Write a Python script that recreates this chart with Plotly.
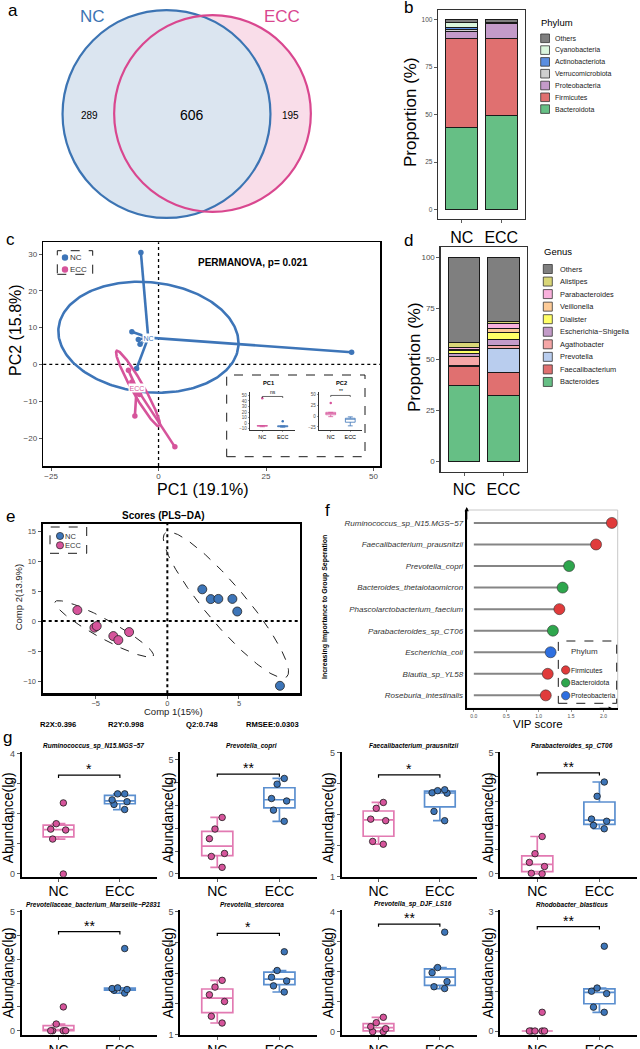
import numpy as np
import plotly.graph_objects as go

W, H = 640, 1049
FONT = "Liberation Sans, Arial, Helvetica, sans-serif"

# ======================= DATA =======================
venn_sets = ["NC", "ECC"]
venn_only = [289, 195]
venn_shared = 606

groups = ["NC", "ECC"]

phyla = ["Bacteroidota", "Firmicutes", "Proteobacteria", "Verrucomicrobiota",
         "Actinobacteriota", "Cyanobacteria", "Others"]
phylum_nc = [43.3, 46.6, 3.8, 0.8, 1.5, 2.2, 1.8]
phylum_ecc = [49.6, 40.3, 8.0, 0.3, 0.2, 0.2, 1.4]

genera = ["Bacteroides", "Faecalibacterium", "Prevotella", "Agathobacter",
          "Escherichia\u2212Shigella", "Dialister", "Veillonella", "Parabacteroides",
          "Alistipes", "Others"]
genus_nc = [37.4, 9.1, 0.3, 4.7, 1.5, 1.2, 0.8, 0.9, 2.2, 41.9]
genus_ecc = [32.5, 10.9, 11.7, 1.8, 3.0, 3.4, 1.8, 2.3, 0.9, 31.7]

# PCoA (panel c)
pcoa_nc_pc1 = [-4.1, 44.9, -6.2, -4.7, -4.3, -5.1]
pcoa_nc_pc2 = [30.4, 3.3, 8.9, 6.8, 5.5, -1.1]
pcoa_ecc_pc1 = [-7.0, -5.5, 3.8, -6.2, -4.4, -5.4]
pcoa_ecc_pc2 = [-1.6, -14.0, -22.4, -4.8, -8.2, -6.0]
pcoa_centroid_pc1 = [-2.4, -5.1]
pcoa_centroid_pc2 = [7.3, -6.5]
# ellipse: centre x, centre y, semi-axis A (dx, dy), semi-axis B (dx, dy)
pcoa_ellipse_nc = [-2.35, 7.4, 20.95, -1.6, 0.0, 15.0]
pcoa_ellipse_ecc = [-4.77, -6.55, 4.96, -10.25, 1.21, 0.80]
permanova_p = 0.021
pc1_pct, pc2_pct = 19.1, 15.8

# PLS-DA (panel e)
plsda_nc_c1 = [2.44, 3.03, 3.56, 4.54, 4.88, 7.86]
plsda_nc_c2 = [5.3, 3.67, 3.7, 3.7, 1.6, -10.8]
plsda_ecc_c1 = [-6.28, -5.09, -4.93, -3.77, -3.42, -2.67]
plsda_ecc_c2 = [1.83, -1.1, -0.83, -2.5, -3.17, -1.83]
plsda_ellipse_nc = [4.09, 2.7, 4.24, -12.0, 1.06, 2.15]
plsda_ellipse_ecc = [-4.41, -1.31, 3.43, -4.52, 0.32, 1.38]
plsda_stats = ["R2X:0.396", "R2Y:0.998", "Q2:0.748", "RMSEE:0.0303"]

# VIP (panel f), bottom -> top
vip_species = ["Roseburia_intestinalis", "Blautia_sp_YL58", "Escherichia_coli",
               "Parabacteroides_sp_CT06", "Phascolarctobacterium_faecium",
               "Bacteroides_thetaiotaomicron", "Prevotella_copri",
               "Faecalibacterium_prausnitzii", "Ruminococcus_sp_N15.MGS\u221257"]
vip_score = [1.11, 1.14, 1.185, 1.22, 1.32, 1.37, 1.47, 1.886, 2.13]
vip_phylum = ["Firmicutes", "Firmicutes", "Proteobacteria", "Bacteroidota", "Firmicutes",
              "Bacteroidota", "Bacteroidota", "Firmicutes", "Firmicutes"]
vip_phyla_order = ["Firmicutes", "Bacteroidota", "Proteobacteria"]

# Abundance (panel g)
abund_titles = ["Ruminococcus_sp_N15.MGS\u221257", "Prevotella_copri",
                "Faecalibacterium_prausnitzii", "Parabacteroides_sp_CT06",
                "Prevotellaceae_bacterium_Marseille\u2212P2831", "Prevotella_stercorea",
                "Prevotella_sp_DJF_LS16", "Rhodobacter_blasticus"]
abund_nc = [[2.36, 1.67, 1.49, 1.46, 1.16, 0.0],
            [2.48, 1.97, 1.55, 0.90, 0.77, 0.29],
            [3.39, 3.20, 2.85, 2.80, 2.13, 2.04],
            [1.54, 0.83, 0.47, 0.30, 0.02, 0.0],
            [1.0, 0.28, 0.0, 0.0, 0.0, 0.0],
            [2.77, 2.55, 2.30, 2.08, 1.60, 1.38],
            [0.48, 0.30, 0.17, 0.10, 0.0, 0.0],
            [0.47, 0.0, 0.0, 0.0, 0.0, 0.0]]
abund_ecc = [[2.66, 2.66, 2.46, 2.40, 2.31, 2.14],
             [4.19, 3.94, 3.31, 3.20, 2.80, 2.31],
             [3.80, 3.77, 3.70, 3.69, 3.10, 2.80],
             [3.79, 3.20, 2.26, 2.17, 2.00, 1.86],
             [3.45, 1.80, 1.77, 1.73, 1.70, 1.58],
             [3.70, 3.09, 2.87, 2.75, 2.59, 2.39],
             [3.32, 2.14, 1.97, 1.67, 1.50, 1.44],
             [2.13, 1.08, 1.00, 0.94, 0.60, 0.47]]
abund_sig = ["*", "**", "*", "**", "**", "*", "**", "**"]

# ======================= STYLE / LAYOUT =======================
BLUE = "#3d75b8"
PINK = "#d6549b"
BOX_BLUE = "#5b8fcf"
BOX_PINK = "#e27ab2"
TICKGRAY = "#4d4d4d"
phylum_colors = ["#66bf85", "#e07070", "#c49bc9", "#cfcfcf", "#5b8ee0", "#dbf6dd", "#7f7f7f"]
genus_colors = ["#66bf85", "#e07070", "#b9cdee", "#f5a6a6", "#c39bc8", "#ffff66",
                "#fdcb98", "#f9b1dc", "#d9d677", "#7f7f7f"]
vip_colors = {"Firmicutes": "#e03b3b", "Bacteroidota": "#2ea64d", "Proteobacteria": "#2e6fe0"}

fig = go.Figure()
layout = dict(template="none", width=W, height=H, autosize=False,
              margin=dict(l=0, r=0, t=0, b=0, pad=0, autoexpand=False),
              paper_bgcolor="white", plot_bgcolor="rgba(0,0,0,0)",
              showlegend=False, barmode="stack", boxmode="overlay",
              font=dict(family=FONT, color="black"))
shapes, annots = [], []


def axid(n):
    return ("x", "y") if n == 1 else (f"x{n}", f"y{n}")


def make_axes(n, x0, x1, y0, y1, xa, ya):
    xr, yr = axid(n)
    base = dict(showgrid=False, zeroline=False, fixedrange=True, automargin=False)
    xk = "xaxis" if n == 1 else f"xaxis{n}"
    yk = "yaxis" if n == 1 else f"yaxis{n}"
    layout[xk] = {**base, "domain": [x0 / W, x1 / W], "anchor": yr, **xa}
    layout[yk] = {**base, "domain": [1 - y1 / H, 1 - y0 / H], "anchor": xr, **ya}


def tk(size, color=TICKGRAY, length=3, width=0.8, standoff=0):
    return dict(ticks="outside", ticklen=length, tickwidth=width, tickcolor="#333333",
                ticklabelstandoff=standoff,
                tickfont=dict(family=FONT, size=size, color=color))


def frame(color, w, mirror=True):
    return dict(showline=True, linecolor=color, linewidth=w, mirror=mirror)


def txt(x, y, s, size, color="black", bold=False, italic=False, angle=0,
        xanchor="center", yanchor="middle", **kw):
    if italic:
        s = f"<i>{s}</i>"
    if bold:
        s = f"<b>{s}</b>"
    annots.append(dict(x=x / W, y=1 - y / H, xref="paper", yref="paper", text=s,
                       showarrow=False, font=dict(family=FONT, size=size, color=color),
                       textangle=angle, xanchor=xanchor, yanchor=yanchor, borderpad=0, **kw))


def prect(x0, y0, x1, y1, **kw):
    shapes.append(dict(type="rect", xref="paper", yref="paper", x0=x0 / W, x1=x1 / W,
                       y0=1 - y1 / H, y1=1 - y0 / H, **kw))


def pcircle(xc, yc, r, **kw):
    shapes.append(dict(type="circle", xref="paper", yref="paper", x0=(xc - r) / W,
                       x1=(xc + r) / W, y0=1 - (yc + r) / H, y1=1 - (yc - r) / H, **kw))


def ellipse(p):
    cx, cy, ax, ay, bx, by = p
    t = np.linspace(0, 2 * np.pi, 241)
    return cx + ax * np.cos(t) + bx * np.sin(t), cy + ay * np.cos(t) + by * np.sin(t)


# panel letters
for lab, (lx, ly) in zip("abcdefg", [(13, 11), (408, 8), (10, 240), (408, 241),
                                      (10, 516), (327, 510), (7, 737)]):
    txt(lx, ly, lab, 17)

# ======================= a: Venn =======================
make_axes(1, 0, 320, 0, 230, dict(range=[0, 320], visible=False),
          dict(range=[230, 0], visible=False))
venn_total = [venn_only[i] + venn_shared for i in range(2)]
venn_r = [3.475 * np.sqrt(t) for t in venn_total]
venn_cx = [166.5, 212.5]
venn_cy = [114.0, 113.5]
venn_fill = ["#dbe5f0", "#f9dde9"]
venn_line = ["#3c74b3", "#d9478f"]
for i in [1, 0]:
    shapes.append(dict(type="circle", xref="x", yref="y", x0=venn_cx[i] - venn_r[i],
                       x1=venn_cx[i] + venn_r[i], y0=venn_cy[i] - venn_r[i],
                       y1=venn_cy[i] + venn_r[i], fillcolor=venn_fill[i], line=dict(width=0)))
for i in [0, 1]:
    shapes.append(dict(type="circle", xref="x", yref="y", x0=venn_cx[i] - venn_r[i],
                       x1=venn_cx[i] + venn_r[i], y0=venn_cy[i] - venn_r[i],
                       y1=venn_cy[i] + venn_r[i], line=dict(color=venn_line[i], width=2.2)))
txt(92, 16, venn_sets[0], 17, color=venn_line[0])
txt(282, 16, venn_sets[1], 17, color=venn_line[1])
txt(89, 115, str(venn_only[0]), 10)
txt(192, 115, str(venn_shared), 14)
txt(290, 115, str(venn_only[1]), 10)

# ======================= b: phylum bars =======================
make_axes(2, 438, 525, 10, 219,
          dict(type="category", categoryarray=groups, range=[-0.6, 1.6],
               **frame("#333333", 1.3), **tk(16, "black")),
          dict(range=[-5, 105], tickvals=[0, 25, 50, 75, 100],
               **frame("#333333", 1.3), **tk(6.5)))
for i, p in enumerate(phyla):
    fig.add_trace(go.Bar(x=groups, y=[phylum_nc[i], phylum_ecc[i]], name=p, width=0.8,
                         marker=dict(color=phylum_colors[i], line=dict(color="#1a1a1a", width=1)),
                         xaxis="x2", yaxis="y2"))
txt(410, 112, "Proportion (%)", 17, angle=-90)
txt(540, 22, "Phylum", 9.5, xanchor="left")
for j, (lab, col) in enumerate(zip(phyla[::-1], phylum_colors[::-1])):
    yc = 38.3 + j * 11.8
    prect(540.7, yc - 4.3, 549.5, yc + 4.3, fillcolor=col, line=dict(color="#333333", width=0.8))
    txt(554, yc, lab, 7, color="#1a1a1a", xanchor="left")

# ======================= d: genus bars =======================
make_axes(6, 440.7, 527, 247, 471.7,
          dict(type="category", categoryarray=groups, range=[-0.6, 1.6],
               **frame("#333333", 1.3), **tk(16, "black")),
          dict(range=[-5, 105], tickvals=[0, 25, 50, 75, 100],
               **frame("#333333", 1.3), **tk(8)))
for i, g in enumerate(genera):
    fig.add_trace(go.Bar(x=groups, y=[genus_nc[i], genus_ecc[i]], name=g, width=0.8,
                         marker=dict(color=genus_colors[i], line=dict(color="#1a1a1a", width=1)),
                         xaxis="x6", yaxis="y6"))
txt(415, 357, "Proportion (%)", 17, angle=-90)
txt(543, 251, "Genus", 9.5, xanchor="left")
for j, (lab, col) in enumerate(zip(genera[::-1], genus_colors[::-1])):
    yc = 269 + j * 12.55
    prect(543.3, yc - 4.5, 552.3, yc + 4.5, fillcolor=col, line=dict(color="#333333", width=0.8))
    txt(559, yc, lab, 7.4, color="#1a1a1a", xanchor="left")

# ======================= c: PCoA =======================
make_axes(3, 43.3, 380, 242.3, 466,
          dict(range=[-26.8, 51.5], tickvals=[-25, 0, 25, 50], **frame("black", 1.6),
               **tk(8, standoff=-1)),
          dict(range=[-27.6, 33.2], tickvals=[-20, -10, 0, 10, 20, 30],
               **frame("black", 1.6), **tk(8)))
shapes.append(dict(type="line", xref="x3", yref="y3 domain", x0=0, x1=0, y0=0, y1=1,
                   line=dict(color="black", width=1.3, dash="dot"), layer="below"))
shapes.append(dict(type="line", xref="x3 domain", yref="y3", x0=0, x1=1, y0=0, y1=0,
                   line=dict(color="black", width=1.3, dash="dot"), layer="below"))
for gi, (px_, py_, col, ell) in enumerate([(pcoa_nc_pc1, pcoa_nc_pc2, BLUE, pcoa_ellipse_nc),
                                           (pcoa_ecc_pc1, pcoa_ecc_pc2, PINK, pcoa_ellipse_ecc)]):
    ex, ey = ellipse(ell)
    fig.add_trace(go.Scatter(x=ex, y=ey, mode="lines", line=dict(color=col, width=2.6),
                             xaxis="x3", yaxis="y3"))
    sx, sy = [], []
    for a, b in zip(px_, py_):
        sx += [pcoa_centroid_pc1[gi], a, None]
        sy += [pcoa_centroid_pc2[gi], b, None]
    fig.add_trace(go.Scatter(x=sx, y=sy, mode="lines", line=dict(color=col, width=2.6),
                             xaxis="x3", yaxis="y3"))
    fig.add_trace(go.Scatter(x=px_, y=py_, mode="markers", marker=dict(color=col, size=5.5),
                             xaxis="x3", yaxis="y3"))
    annots.append(dict(x=pcoa_centroid_pc1[gi], y=pcoa_centroid_pc2[gi], xref="x3", yref="y3",
                       text=groups[gi], showarrow=False, bgcolor="white", borderpad=0.5,
                       font=dict(family=FONT, size=7, color=col)))
txt(203, 489, f"PC1 ({pc1_pct}%)", 16)
txt(15, 330, f"PC2 ({pc2_pct}%)", 16, angle=-90)
txt(253, 262.5, f"PERMANOVA, p= {permanova_p}", 10, bold=True)
prect(57.3, 250.7, 92.7, 274.3, line=dict(color="black", width=0.9, dash="dash"))
for j, (lab, col) in enumerate(zip(groups, [BLUE, PINK])):
    yc = 257.5 + j * 12
    pcircle(65, yc, 3.2, fillcolor=col, line=dict(width=0))
    txt(68.5, yc, lab, 8, color="#333333", xanchor="left")

# inset boxplots
prect(226.7, 375, 365, 456.7, line=dict(color="black", width=0.9, dash="dash"))
inset_x = dict(type="category", categoryarray=groups, range=[-0.6, 1.6],
               showline=True, linecolor="black", linewidth=0.8,
               **tk(5.5, "black", length=1.5, width=0.5))
inset_specs = [(4, 250, 295, [-12, 56], [-10, 0, 10, 20, 30, 40, 50], pcoa_nc_pc1, pcoa_ecc_pc1,
                "PC1", "ns", 48, 268.3),
               (5, 319, 362, [-32, 56], [-25, 0, 25, 50], pcoa_nc_pc2, pcoa_ecc_pc2,
                "PC2", "**", 48, 341)]
for n, x0, x1, yr_, tv, vnc, vecc, ttl, sig, bh, tx in inset_specs:
    make_axes(n, x0, x1, 392, 430, inset_x,
              dict(range=yr_, tickvals=tv, showline=True, linecolor="black", linewidth=0.8,
                   **tk(4.5, length=1.5, width=0.5)))
    xr, yr = axid(n)
    for grp, vals, col in [("NC", vnc, PINK), ("ECC", vecc, BLUE)]:
        fig.add_trace(go.Box(x=[grp] * len(vals), y=vals, width=0.5, boxpoints="outliers",
                             line=dict(color=col, width=0.8), fillcolor="rgba(255,255,255,0)",
                             marker=dict(color=col, size=2.5), xaxis=xr, yaxis=yr))
    d = 0.04 * (yr_[1] - yr_[0])
    fig.add_trace(go.Scatter(x=["NC", "NC", "ECC", "ECC"], y=[bh - d, bh, bh, bh - d],
                             mode="lines", line=dict(color="black", width=0.6),
                             xaxis=xr, yaxis=yr))
    annots.append(dict(x=0.5, y=bh, xref=xr, yref=yr, text=sig, showarrow=False,
                       yanchor="bottom", yshift=-1, font=dict(family=FONT, size=5, color="black")))
    txt(tx, 383, ttl, 5.7, bold=True)

# ======================= e: PLS-DA =======================
make_axes(7, 42.7, 300, 524, 693.3,
          dict(range=[-8.7, 9.26], tickvals=[-5, 0, 5], **frame("black", 2.2),
               **tk(7.5, standoff=-2)),
          dict(range=[-12.05, 16.2], tickvals=[-10, -5, 0, 5, 10, 15],
               **frame("black", 2.2), **tk(7.5)))
shapes.append(dict(type="line", xref="x7", yref="y7 domain", x0=0, x1=0, y0=0, y1=1,
                   line=dict(color="black", width=2, dash="dot"), layer="below"))
shapes.append(dict(type="line", xref="x7 domain", yref="y7", x0=0, x1=1, y0=0, y1=0,
                   line=dict(color="black", width=2, dash="dot"), layer="below"))
for cx_, cy_, col, ell in [(plsda_nc_c1, plsda_nc_c2, BLUE, plsda_ellipse_nc),
                           (plsda_ecc_c1, plsda_ecc_c2, PINK, plsda_ellipse_ecc)]:
    ex, ey = ellipse(ell)
    fig.add_trace(go.Scatter(x=ex, y=ey, mode="lines",
                             line=dict(color="#222222", width=1, dash="dash"),
                             xaxis="x7", yaxis="y7"))
    fig.add_trace(go.Scatter(x=cx_, y=cy_, mode="markers",
                             marker=dict(color=col, size=9, line=dict(color="#222222", width=0.8)),
                             xaxis="x7", yaxis="y7"))
txt(163.3, 515, "Scores (PLS\u2212DA)", 10, bold=True)
txt(173.3, 711, "Comp 1(15%)", 9.5, color="#222222")
txt(18.3, 597, "Comp 2(13.9%)", 9.5, color="#222222", angle=-90)
prect(50, 527, 86.7, 553.3, line=dict(color="black", width=0.9, dash="dash"))
for j, (lab, col) in enumerate(zip(groups, [BLUE, PINK])):
    yc = 536 + j * 9.3
    pcircle(60, yc, 3.6, fillcolor=col, line=dict(color="#222222", width=0.7))
    txt(64, yc, lab, 7.5, color="#333333", xanchor="left")
for s, sxp in zip(plsda_stats, [58.3, 126, 201.7, 272.7]):
    txt(sxp, 724, s, 7.6, bold=True)

# ======================= f: VIP lollipop =======================
make_axes(8, 466.7, 617.7, 510, 708.3,
          dict(range=[-0.11, 2.22], tickvals=[0, 0.5, 1, 1.5, 2],
               ticktext=["0.0", "0.5", "1.0", "1.5", "2.0"],
               showline=True, linecolor="black", linewidth=1.2,
               **tk(5, length=2, width=0.5)),
          dict(type="category", categoryarray=vip_species, range=[-0.6, 8.6],
               tickvals=vip_species, ticktext=[f"<i>{s}</i>" for s in vip_species],
               tickfont=dict(family=FONT, size=8, color="#333333"), ticks="",
               showline=True, linecolor="black", linewidth=2))
shapes.append(dict(type="rect", xref="x8 domain", yref="y8 domain", x0=0, x1=1, y0=0, y1=1,
                   line=dict(color="#c8c8c8", width=1), layer="below"))
lx, ly = [], []
for s, v in zip(vip_species, vip_score):
    lx += [0, v, None]
    ly += [s, s, None]
fig.add_trace(go.Scatter(x=lx, y=ly, mode="lines", line=dict(color="#858585", width=2),
                         xaxis="x8", yaxis="y8"))
fig.add_trace(go.Scatter(x=vip_score, y=vip_species, mode="markers",
                         marker=dict(color=[vip_colors[p] for p in vip_phylum], size=11,
                                     line=dict(color="#333333", width=0.6)),
                         xaxis="x8", yaxis="y8"))
annots.append(dict(x=0, y=1.015, xref="x8 domain", yref="y8 domain", text="", showarrow=True,
                   ax=0, ay=14, arrowhead=2, arrowsize=0.7, arrowwidth=1.2, arrowcolor="black"))
annots.append(dict(x=0.963, y=0, xref="x8 domain", yref="y8 domain", text="", showarrow=True,
                   ax=-14, ay=0, arrowhead=2, arrowsize=0.7, arrowwidth=1, arrowcolor="black"))
txt(538.3, 724, "VIP score", 11.5)
txt(325, 607, "Increasing Importance to Group Seperation", 7, bold=True, angle=-90)
prect(558.3, 641, 616.7, 703.3, line=dict(color="black", width=0.9, dash="dash"))
txt(584, 651.7, "Phylum", 8, color="#333333")
for j, p in enumerate(vip_phyla_order):
    yc = 670 + j * 12.8
    pcircle(565.7, yc, 4.2, fillcolor=vip_colors[p], line=dict(color="#333333", width=0.6))
    txt(570.3, yc, p, 6.8, color="#222222", xanchor="left")

# ======================= g: abundance boxplots =======================
g_cols = [(21.7, 156.7), (180, 316.7), (341.7, 476.7), (500, 636.7)]
g_rows = [(752, 876.7), (910, 1035)]
g_ranges = [[-0.09, 4.05], [-0.12, 5.35], [0.99, 5.02], [-0.12, 5.03],
            [-0.18, 5.07], [0.99, 5.06], [-0.11, 4.06], [-0.1, 3.04]]
g_bracket = [3.28, 4.38, 4.28, 4.17, 4.16, 4.3, 3.59, 2.62]
g_title_x = [93.3, 251.7, 413.3, 572.3]
g_title_y = [746, 904]
g_ytitle_x = [8.3, 168.3, 328.3, 488.3]
g_ytitle_y = [818, 973]
for k in range(8):
    n = 9 + k
    r, c = divmod(k, 4)
    x0, x1 = g_cols[c]
    y0, y1 = g_rows[r]
    lo, hi = g_ranges[k]
    tv = list(range(int(np.ceil(lo)), int(np.floor(hi)) + 1))
    make_axes(n, x0, x1, y0, y1,
              dict(type="category", categoryarray=groups, range=[-0.6, 1.6],
                   showline=True, linecolor="black", linewidth=1.8,
                   **tk(14, "black", standoff=-2)),
              dict(range=[lo, hi], tickvals=tv, showline=True, linecolor="black",
                   linewidth=1.8, **tk(9)))
    xr, yr = axid(n)
    for grp, vals, lcol, pcol in [("NC", abund_nc[k], BOX_PINK, PINK),
                                  ("ECC", abund_ecc[k], BOX_BLUE, BLUE)]:
        arr = np.array(vals)
        q1, med, q3 = np.percentile(arr, [25, 50, 75])
        iqr = q3 - q1
        lf = arr[arr >= q1 - 1.5 * iqr].min()
        uf = arr[arr <= q3 + 1.5 * iqr].max()
        fig.add_trace(go.Box(x=[grp], q1=[q1], median=[med], q3=[q3], lowerfence=[lf],
                             upperfence=[uf], width=0.5, whiskerwidth=0.45,
                             fillcolor="rgba(255,255,255,0)", line=dict(color=lcol, width=1.7),
                             boxpoints=False, xaxis=xr, yaxis=yr))
        fig.add_trace(go.Box(x=[grp] * len(vals), y=vals, boxpoints="all", jitter=0.6,
                             pointpos=0, width=0.5, fillcolor="rgba(0,0,0,0)",
                             line=dict(width=0, color="rgba(0,0,0,0)"),
                             marker=dict(size=6.5, color=pcol, line=dict(color="#1a1a1a", width=0.8)),
                             xaxis=xr, yaxis=yr))
    bh = g_bracket[k]
    d = 0.022 * (hi - lo)
    fig.add_trace(go.Scatter(x=["NC", "NC", "ECC", "ECC"], y=[bh - d, bh, bh, bh - d],
                             mode="lines", line=dict(color="black", width=1.2),
                             xaxis=xr, yaxis=yr))
    annots.append(dict(x=0.5, y=bh, xref=xr, yref=yr, text=abund_sig[k], showarrow=False,
                       yanchor="bottom", yshift=-4, font=dict(family=FONT, size=14, color="black")))
    txt(g_title_x[c], g_title_y[r], abund_titles[k], 6.5, bold=True, italic=True)
    txt(g_ytitle_x[c], g_ytitle_y[r], "Abundance(lg)", 14, angle=-90)

layout["shapes"] = shapes
layout["annotations"] = annots
fig.update_layout(**layout)
fig.write_html(
    "out.html",
    config={"displayModeBar": False, "staticPlot": True},
    post_script="document.body.style.margin='0px';document.body.style.padding='0px';"
                "document.body.style.overflow='hidden';",
)
